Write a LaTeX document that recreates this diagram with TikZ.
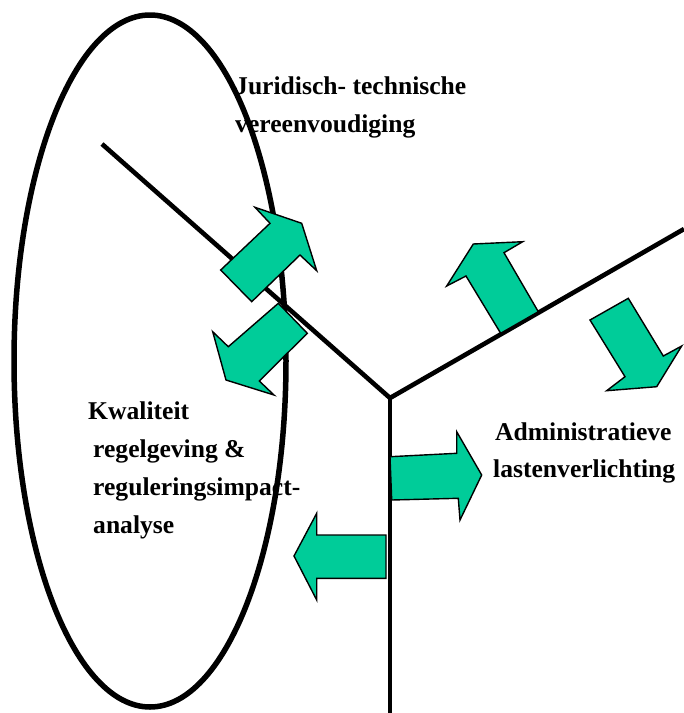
\documentclass[tikz,border=0pt]{standalone}
\usepackage{fontspec}
\newfontfamily\lblfont{Liberation Serif}
\definecolor{arrowgreen}{RGB}{0,204,153}
\tikzset{
  lbl/.style={anchor=base west, inner sep=0pt, font=\lblfont\bfseries\fontsize{25.6}{26}\selectfont},
  branch/.style={line width=4.6pt, black},
  oval/.style={line width=5.5pt, black},
  blockarrow/.style={fill=arrowgreen, draw=black, line width=1.4pt, line join=miter}
}
\begin{document}
\begin{tikzpicture}[x=1pt, y=-1pt]
\useasboundingbox (0,0) rectangle (684,713);
% texts
\node[lbl] (t1) at (235,94) {Juridisch- technische};
\node[lbl] (t2) at (235,132) {vereenvoudiging};
\node[lbl] (k1) at (88,419) {Kwaliteit};
\node[lbl] (k2) at (93,457) {regelgeving \&};
\node[lbl] (k3) at (93,495) {reguleringsimpact-};
\node[lbl] (k4) at (93,533) {analyse};
\node[lbl] (a1) at (495,440) {Administratieve};
\node[lbl] (a2) at (493,477) {lastenverlichting};
% ellipse
\draw[oval] (150,361) ellipse [x radius=136, y radius=346];
% branches
\coordinate (j) at (390,398);
\coordinate (ul) at (102,144);
\coordinate (ur) at (684,229);
\coordinate (bot) at (390,713);
\draw[branch] (ul) -- (j) -- (ur);
\draw[branch] (j) -- (bot);
% block arrows
\draw[blockarrow] (220.7,270) -- (270,223.3) -- (255,207.3) -- (301.7,223.3) -- (316.7,270.7) -- (300,255) -- (251.7,301.7) -- cycle;
\draw[blockarrow] (278.3,303.3) -- (228.3,346.7) -- (212.7,331.7) -- (226,380) -- (274,395) -- (259.3,381) -- (307.3,333.3) -- cycle;
\draw[blockarrow] (500.7,333.3) -- (466,276) -- (446.7,286) -- (473.3,244) -- (522.7,241.7) -- (504,252.7) -- (538.3,311.7) -- cycle;
\draw[blockarrow] (590,320) -- (625,376.7) -- (606.7,390.7) -- (656.7,386.7) -- (681.7,346) -- (663.3,356) -- (628.3,298.3) -- cycle;
\draw[blockarrow] (390,456.7) -- (456.7,453.3) -- (456.7,431.7) -- (481.7,475) -- (460,520) -- (458.3,498.3) -- (391.7,500) -- cycle;
\draw[blockarrow] (386,535) -- (316.7,535) -- (316.7,513.3) -- (294,556) -- (316.7,600) -- (316.7,578.3) -- (386,578.3) -- cycle;
\end{tikzpicture}
\end{document}
